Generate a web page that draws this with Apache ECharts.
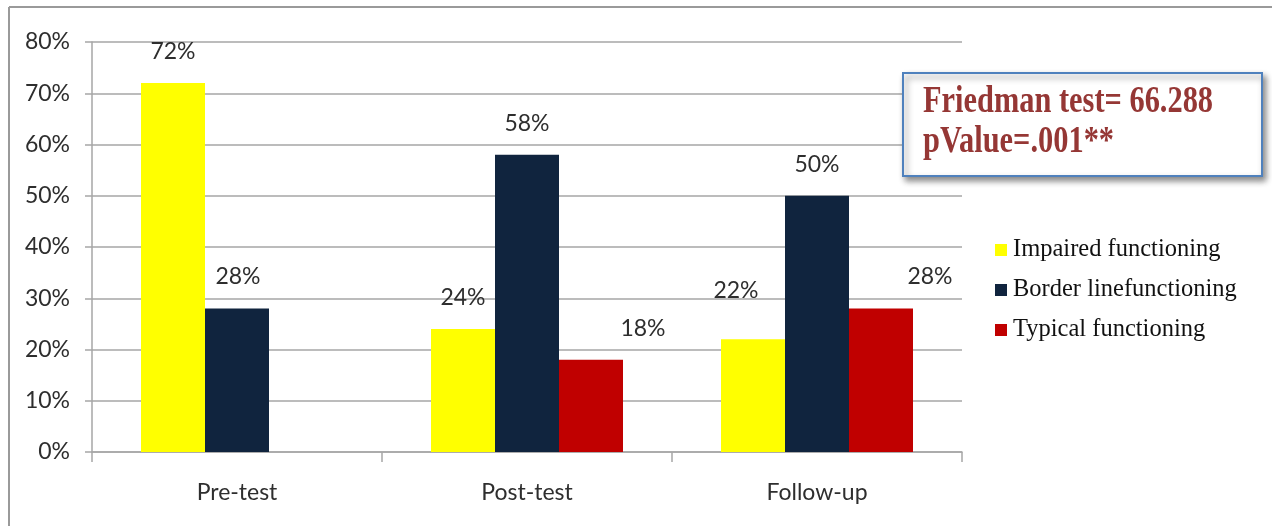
<!DOCTYPE html>
<html>
<head>
<meta charset="utf-8">
<script src="https://cdn.jsdelivr.net/npm/echarts@6/dist/echarts.min.js"></script>
<style>
html,body{margin:0;padding:0;background:#fff;}
#chart{width:1272px;height:526px;}
</style>
</head>
<body>
<div id="chart"></div>
<script>
// ---- data ----
const categories = ['Pre-test', 'Post-test', 'Follow-up'];
const seriesNames = ['Impaired functioning', 'Border linefunctioning', 'Typical functioning'];
const impaired = [72, 24, 22];
const borderline = [28, 58, 50];
const typical = [null, 18, 28];
const yTicks = [0, 10, 20, 30, 40, 50, 60, 70, 80];
const noteLines = ['Friedman test= 66.288', 'pValue=.001**'];

// ---- styling ----
const colors = ['#FFFF00', '#10243E', '#C00000'];
// manual label nudges (x, y) per series / category, as in the original
const labelNudge = [
  [[0, 0], [0, 0], [-17, -17]],
  [[1, 0], [0, 0], [0, 0]],
  [[0, 0], [52, 0], [49, 0]]
];
const labelFont = 'Lato, "Open Sans", sans-serif';
const textColor = '#2e2e2e';
const gridColor = '#a6a6a6';

function buildSeries(idx, values) {
  return {
    name: seriesNames[idx],
    type: 'bar',
    barWidth: 64,
    barGap: '0%',
    itemStyle: { color: colors[idx] },
    data: values.map((v, i) => ({
      value: v === null ? '-' : v,
      label: { offset: labelNudge[idx][i] }
    })),
    label: {
      show: true,
      position: 'top',
      distance: 20,
      formatter: '{c}%',
      fontFamily: labelFont,
      fontSize: 23,
      color: textColor
    }
  };
}

const chart = echarts.init(document.getElementById('chart'), null, { renderer: 'canvas' });
chart.setOption({
  backgroundColor: '#ffffff',
  animation: false,
  grid: { left: 92, top: 42, right: 310, bottom: 74, containLabel: false },
  xAxis: {
    type: 'category',
    data: categories,
    axisLine: { show: true, lineStyle: { color: gridColor, width: 1.5 } },
    axisTick: { show: true, length: 10, lineStyle: { color: gridColor, width: 1.5 } },
    axisLabel: { margin: 29, fontFamily: labelFont, fontSize: 23, color: textColor }
  },
  yAxis: {
    type: 'value',
    min: yTicks[0],
    max: yTicks[yTicks.length - 1],
    interval: yTicks[1] - yTicks[0],
    axisLine: { show: true, lineStyle: { color: gridColor, width: 1.5 } },
    axisTick: { show: true, length: 7, lineStyle: { color: gridColor, width: 1.5 } },
    splitLine: { show: true, lineStyle: { color: gridColor, width: 1.5 } },
    axisLabel: { margin: 22, formatter: '{value}%', fontFamily: labelFont, fontSize: 23, color: textColor }
  },
  legend: {
    orient: 'vertical',
    left: 995,
    top: 236,
    padding: 0,
    itemWidth: 12,
    itemHeight: 12,
    itemGap: 12,
    icon: 'rect',
    data: seriesNames,
    textStyle: {
      fontFamily: '"Liberation Serif", "Times New Roman", serif',
      fontSize: 24.5,
      lineHeight: 28,
      color: '#111111',
      padding: [0, 0, 0, 1]
    }
  },
  series: [
    buildSeries(0, impaired),
    buildSeries(1, borderline),
    buildSeries(2, typical)
  ],
  graphic: [
    { type: 'line', shape: { x1: 9, y1: 7, x2: 1272, y2: 7 }, style: { stroke: '#9a9a9a', lineWidth: 2 }, silent: true },
    { type: 'line', shape: { x1: 9, y1: 7, x2: 9, y2: 526 }, style: { stroke: '#9a9a9a', lineWidth: 2 }, silent: true },
    {
      type: 'rect',
      shape: { x: 903, y: 73, width: 359, height: 103 },
      style: {
        fill: '#ffffff', stroke: '#4f81bd', lineWidth: 2,
        shadowBlur: 6, shadowOffsetX: 3, shadowOffsetY: 4, shadowColor: 'rgba(0,0,0,0.45)'
      },
      z: 100
    },
    {
      type: 'text', x: 923, y: 102, scaleX: 0.8, z: 101,
      style: {
        text: noteLines[0], fill: '#953735',
        font: 'bold 38px "Liberation Serif", "Times New Roman", serif',
        verticalAlign: 'middle', align: 'left'
      }
    },
    {
      type: 'text', x: 923, y: 142, scaleX: 0.8, z: 101,
      style: {
        text: noteLines[1], fill: '#953735',
        font: 'bold 38px "Liberation Serif", "Times New Roman", serif',
        verticalAlign: 'middle', align: 'left'
      }
    }
  ]
});
</script>
</body>
</html>
